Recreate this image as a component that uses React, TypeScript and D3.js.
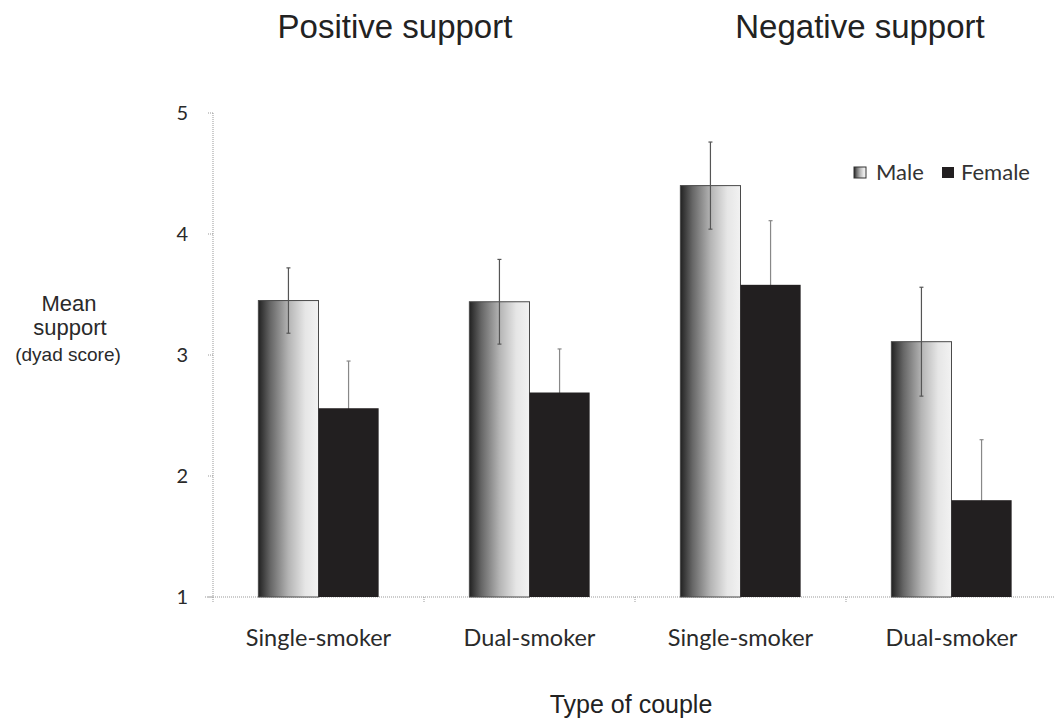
import * as d3 from "d3";

const categories = ["pos-single", "pos-dual", "neg-single", "neg-dual"];
const categoryLabels = ["Single-smoker", "Dual-smoker", "Single-smoker", "Dual-smoker"];
const sexes = ["Male", "Female"];

const maleMeans = [3.45, 3.44, 4.4, 3.11];
const maleErrors = [0.27, 0.35, 0.36, 0.45];
const femaleMeans = [2.56, 2.69, 3.58, 1.8];
const femaleErrors = [0.39, 0.36, 0.53, 0.5];

const yTicks = [1, 2, 3, 4, 5];
const panelTitles = ["Positive support", "Negative support"];

const W = 1054;
const H = 727;

const labelFont = "Lato, 'Open Sans', sans-serif";
const arial = "'Liberation Sans', Arial, sans-serif";

export default function App() {
  const x = d3
    .scaleBand<string>()
    .domain(categories)
    .range([213, 1057])
    .paddingInner(0.43)
    .paddingOuter(0.215);
  const xSub = d3.scaleBand<string>().domain(sexes).range([0, x.bandwidth()]);
  const y = d3.scaleLinear().domain([1, 5]).range([597, 113]);

  const rows = categories.map((c, i) => ({
    cat: c,
    label: categoryLabels[i],
    male: maleMeans[i],
    maleErr: maleErrors[i],
    female: femaleMeans[i],
    femaleErr: femaleErrors[i],
  }));

  const bw = xSub.bandwidth();
  const cap = 2;

  return (
    <svg
      width={W}
      height={H}
      style={{ position: "absolute", left: 0, top: 0, background: "#fff" }}
    >
      <defs>
        <linearGradient id="maleGrad" x1="0" x2="1" y1="0" y2="0">
          <stop offset="0%" stopColor="#222" />
          <stop offset="20%" stopColor="#666" />
          <stop offset="50%" stopColor="#b4b4b4" />
          <stop offset="78%" stopColor="#e6e6e6" />
          <stop offset="100%" stopColor="#f2f2f2" />
        </linearGradient>
      </defs>

      {/* titles */}
      <text x={395} y={38} textAnchor="middle" fontFamily={arial} fontSize={33} fill="#222">
        {panelTitles[0]}
      </text>
      <text x={860} y={38} textAnchor="middle" fontFamily={arial} fontSize={33} fill="#222">
        {panelTitles[1]}
      </text>

      {/* y axis */}
      <line x1={213} x2={213} y1={y(5)} y2={y(1)} stroke="#999" strokeDasharray="1,1" />
      {yTicks.map((t) => (
        <g key={t}>
          <line x1={208} x2={213} y1={y(t)} y2={y(t)} stroke="#999" strokeDasharray="1,1" />
          <text
            x={188}
            y={y(t)}
            dy="0.35em"
            textAnchor="end"
            fontFamily={labelFont}
            fontSize={20}
            fill="#2a2a2a"
          >
            {t}
          </text>
        </g>
      ))}

      {/* x axis */}
      <line x1={205} x2={1054} y1={y(1)} y2={y(1)} stroke="#999" strokeDasharray="1,1" />
      {categories.map((c) => (
        <line
          key={c}
          x1={x(c)! - (x.step() * x.paddingInner()) / 2}
          x2={x(c)! - (x.step() * x.paddingInner()) / 2}
          y1={y(1)}
          y2={y(1) + 5}
          stroke="#999"
          strokeDasharray="1,1"
        />
      ))}

      {/* male bars */}
      {rows.map((d) => (
        <rect
          key={"m" + d.cat}
          x={x(d.cat)! + xSub("Male")!}
          y={y(d.male)}
          width={bw}
          height={y(1) - y(d.male)}
          fill="url(#maleGrad)"
          stroke="#4a4a4a"
          strokeWidth={1}
        />
      ))}

      {/* error bars */}
      {rows.map((d) => {
        const mx = x(d.cat)! + xSub("Male")! + bw / 2;
        const fx = x(d.cat)! + xSub("Female")! + bw / 2;
        return (
          <g key={"e" + d.cat} stroke="#555" strokeWidth={1.2}>
            <line x1={mx} x2={mx} y1={y(d.male - d.maleErr)} y2={y(d.male + d.maleErr)} />
            <line x1={mx - cap} x2={mx + cap} y1={y(d.male + d.maleErr)} y2={y(d.male + d.maleErr)} />
            <line x1={mx - cap} x2={mx + cap} y1={y(d.male - d.maleErr)} y2={y(d.male - d.maleErr)} />
            <line x1={fx} x2={fx} y1={y(d.female - d.femaleErr)} y2={y(d.female + d.femaleErr)} stroke="#888" />
            <line
              x1={fx - cap}
              x2={fx + cap}
              y1={y(d.female + d.femaleErr)}
              y2={y(d.female + d.femaleErr)}
              stroke="#888"
            />
          </g>
        );
      })}

      {/* female bars */}
      {rows.map((d) => (
        <rect
          key={"f" + d.cat}
          x={x(d.cat)! + xSub("Female")!}
          y={y(d.female)}
          width={bw}
          height={y(1) - y(d.female)}
          fill="#221f20"
        />
      ))}

      {/* category labels */}
      {rows.map((d) => (
        <text
          key={"l" + d.cat}
          x={x(d.cat)! + x.bandwidth() / 2}
          y={646}
          textAnchor="middle"
          fontFamily={labelFont}
          fontSize={23.5}
          fill="#2a2a2a"
        >
          {d.label}
        </text>
      ))}

      {/* axis titles */}
      <text x={631} y={713} textAnchor="middle" fontFamily={arial} fontSize={25} fill="#222">
        Type of couple
      </text>
      <g fontFamily={arial} fill="#2a2a2a" textAnchor="middle">
        <text x={69} y={311} fontSize={22}>
          Mean
        </text>
        <text x={70} y={335} fontSize={22}>
          support
        </text>
        <text x={68} y={361} fontSize={19}>
          (dyad score)
        </text>
      </g>

      {/* legend */}
      <g fontFamily={labelFont} fontSize={22} fill="#333">
        <rect x={854} y={167} width={12} height={11} fill="url(#maleGrad)" stroke="#333" />
        <text x={876} y={180}>
          {sexes[0]}
        </text>
        <rect x={942} y={167} width={12} height={11} fill="#221f20" />
        <text x={961} y={180}>
          {sexes[1]}
        </text>
      </g>
    </svg>
  );
}
